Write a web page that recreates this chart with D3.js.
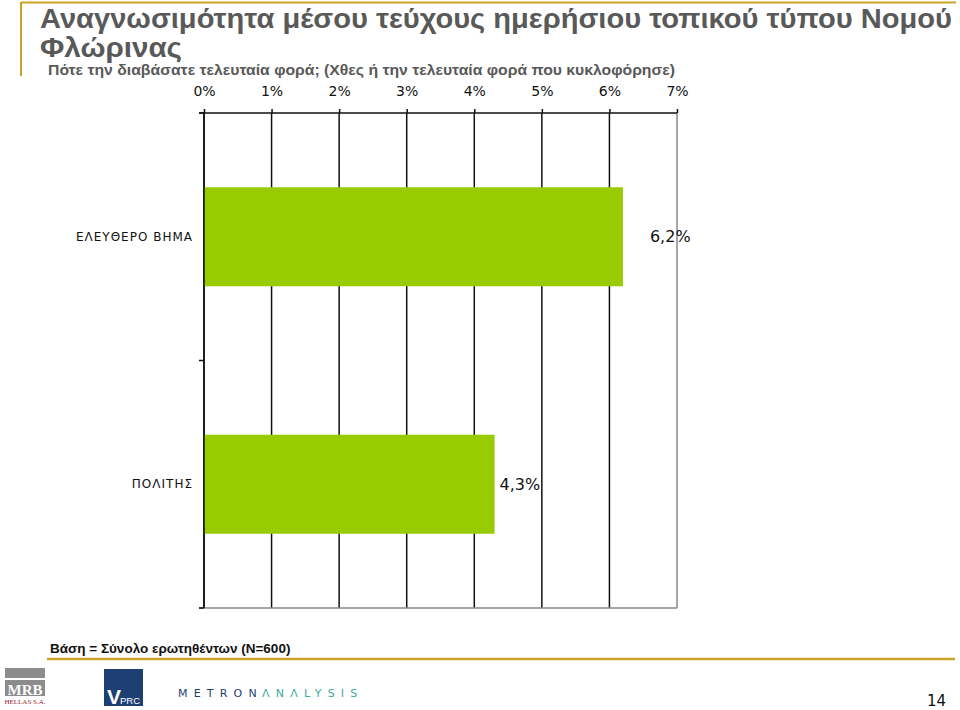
<!DOCTYPE html>
<html>
<head>
<meta charset="utf-8">
<script src="https://cdn.jsdelivr.net/npm/d3@7"></script>
<style>
  body{margin:0;background:#fff;}
  svg{display:block;}
</style>
</head>
<body>
<svg id="chart" width="960" height="710"></svg>
<script>
// data
const categories=["ΕΛΕΥΘΕΡΟ ΒΗΜΑ","ΠΟΛΙΤΗΣ"]
const values=[6.2,4.3]
const valueLabels=["6,2%","4,3%"]
const ticks=[0,1,2,3,4,5,6,7]
const tickLabels=ticks.map(t=>t+"%")

const labelDx=[27,5]   // value label nudge, as in the original slide
const gold="#c9a227"
const narrow="'Liberation Sans Narrow','Arial Narrow','Liberation Sans',sans-serif"

const svg=d3.select("#chart")
const plotLeft=204,plotRight=677,plotTop=113,plotBottom=608

const xscale=d3.scaleLinear().domain([0,7]).range([plotLeft,plotRight])
const yscale=d3.scaleBand().domain(categories).range([plotTop,plotBottom]).paddingInner(0.6).paddingOuter(0.3)

// frame lines (slide decoration)
svg.append("line").attr("x1",21).attr("x2",956).attr("y1",2.5).attr("y2",2.5).attr("stroke",gold).attr("stroke-width",2)
svg.append("line").attr("x1",21).attr("x2",21).attr("y1",2).attr("y2",76).attr("stroke",gold).attr("stroke-width",2)

// titles (condensed look via textLength)
svg.append("text").attr("x",40).attr("y",28)
  .attr("font-family",narrow).attr("font-weight","bold").attr("font-size",28).attr("fill","#595959")
  .attr("textLength",912).attr("lengthAdjust","spacingAndGlyphs")
  .text("Αναγνωσιμότητα μέσου τεύχους ημερήσιου τοπικού τύπου Νομού")
svg.append("text").attr("x",40).attr("y",57)
  .attr("font-family",narrow).attr("font-weight","bold").attr("font-size",28).attr("fill","#595959")
  .attr("textLength",142).attr("lengthAdjust","spacingAndGlyphs")
  .text("Φλώρινας")
svg.append("text").attr("x",48).attr("y",75)
  .attr("font-family",narrow).attr("font-weight","bold").attr("font-size",15).attr("fill","#595959")
  .attr("textLength",627).attr("lengthAdjust","spacingAndGlyphs")
  .text("Πότε την διαβάσατε τελευταία φορά; (Χθες ή την τελευταία φορά που κυκλοφόρησε)")

// grid
svg.selectAll(".grid").data(ticks).enter().append("line")
  .attr("class","grid")
  .attr("x1",d=>xscale(d)).attr("x2",d=>xscale(d))
  .attr("y1",plotTop).attr("y2",plotBottom)
  .attr("stroke",d=>d===7?"#888":"#111").attr("stroke-width",1.5)
svg.append("line").attr("x1",plotLeft-5).attr("x2",plotRight).attr("y1",plotBottom).attr("y2",plotBottom)
  .attr("stroke","#888").attr("stroke-width",1.5)

// bars
svg.selectAll(".bar").data(values).enter().append("rect")
  .attr("class","bar")
  .attr("x",xscale(0))
  .attr("y",(d,i)=>yscale(categories[i]))
  .attr("width",d=>xscale(d)-xscale(0))
  .attr("height",yscale.bandwidth())
  .attr("fill","#99cc00")

// top axis
const xaxis=d3.axisTop(xscale).tickValues(ticks).tickFormat((d,i)=>tickLabels[i]).tickSize(4).tickSizeOuter(0)
const gx=svg.append("g").attr("transform",`translate(0,${plotTop})`).call(xaxis)
gx.select(".domain").attr("stroke","#111").attr("stroke-width",1.5).attr("d",`M${plotLeft-5},0H${plotRight}`)
gx.selectAll(".tick line").attr("stroke","#111").attr("stroke-width",1.5)
gx.selectAll(".tick text").attr("font-family","'DejaVu Sans',Verdana,sans-serif").attr("font-size",14).attr("fill","#111").attr("dy","-0.75em")

// left axis: category separators
const ysep=[plotTop,(plotTop+plotBottom)/2,plotBottom]
svg.append("line").attr("x1",plotLeft).attr("x2",plotLeft).attr("y1",plotTop).attr("y2",plotBottom).attr("stroke","#111").attr("stroke-width",1.5)
svg.selectAll(".ytick").data(ysep).enter().append("line")
  .attr("class","ytick").attr("x1",plotLeft-5).attr("x2",plotLeft).attr("y1",d=>d).attr("y2",d=>d)
  .attr("stroke","#111").attr("stroke-width",1.5)

svg.selectAll(".cat").data(categories).enter().append("text")
  .attr("x",plotLeft-11).attr("y",d=>yscale(d)+yscale.bandwidth()/2).attr("dy","0.35em")
  .attr("text-anchor","end").attr("font-family","'DejaVu Sans',Verdana,sans-serif").attr("font-size",12)
  .attr("letter-spacing",1).attr("fill","#111").text(d=>d)

// value labels
svg.selectAll(".val").data(values).enter().append("text")
  .attr("x",(d,i)=>xscale(d)+labelDx[i]).attr("y",(d,i)=>yscale(categories[i])+yscale.bandwidth()/2).attr("dy","0.35em")
  .attr("font-family","'DejaVu Sans',Verdana,sans-serif").attr("font-size",16).attr("fill","#111")
  .text((d,i)=>valueLabels[i])

// footer
svg.append("text").attr("x",50).attr("y",653)
  .attr("font-family","'Liberation Sans',Arial,sans-serif").attr("font-weight","bold").attr("font-size",13.5).attr("fill","#111")
  .text("Βάση = Σύνολο ερωτηθέντων (N=600)")
svg.append("line").attr("x1",47).attr("x2",955).attr("y1",659).attr("y2",659).attr("stroke",gold).attr("stroke-width",2.5)

// logos
svg.append("rect").attr("x",5).attr("y",668).attr("width",40).attr("height",10).attr("fill","#8c8c8c")
svg.append("rect").attr("x",5).attr("y",680).attr("width",40).attr("height",16).attr("fill","#8c8c8c")
svg.append("text").attr("x",25).attr("y",695).attr("text-anchor","middle")
  .attr("font-family","'Liberation Serif',serif").attr("font-weight","bold").attr("font-size",15).attr("fill","#fff").text("MRB")
svg.append("text").attr("x",25).attr("y",704).attr("text-anchor","middle")
  .attr("font-family","'Liberation Serif',serif").attr("font-size",7).attr("fill","#9b2335").text("HELLAS S.A.")
svg.append("rect").attr("x",104).attr("y",669).attr("width",39).attr("height",37).attr("fill","#1d3f73")
svg.append("text").attr("x",107).attr("y",704)
  .attr("font-family","'Liberation Sans',Arial,sans-serif").attr("font-weight","bold").attr("font-size",21).attr("fill","#fff").text("V")
svg.append("text").attr("x",120).attr("y",704)
  .attr("font-family","'Liberation Sans',Arial,sans-serif").attr("font-size",9.5).attr("fill","#fff").text("PRC")
svg.append("text").attr("x",178).attr("y",697)
  .attr("font-family","'DejaVu Sans',sans-serif").attr("font-size",11).attr("letter-spacing",6.2).attr("fill","#1d3f73").text("METRON")
svg.append("text").attr("x",262).attr("y",697)
  .attr("font-family","'DejaVu Sans',sans-serif").attr("font-size",11).attr("letter-spacing",6.2).attr("fill","#3aa9a0").text("ΛNΛLYSIS")

svg.append("text").attr("x",946).attr("y",706).attr("text-anchor","end")
  .attr("font-family","'DejaVu Sans',Verdana,sans-serif").attr("font-size",15).attr("fill","#111").text("14")
</script>
</body>
</html>
